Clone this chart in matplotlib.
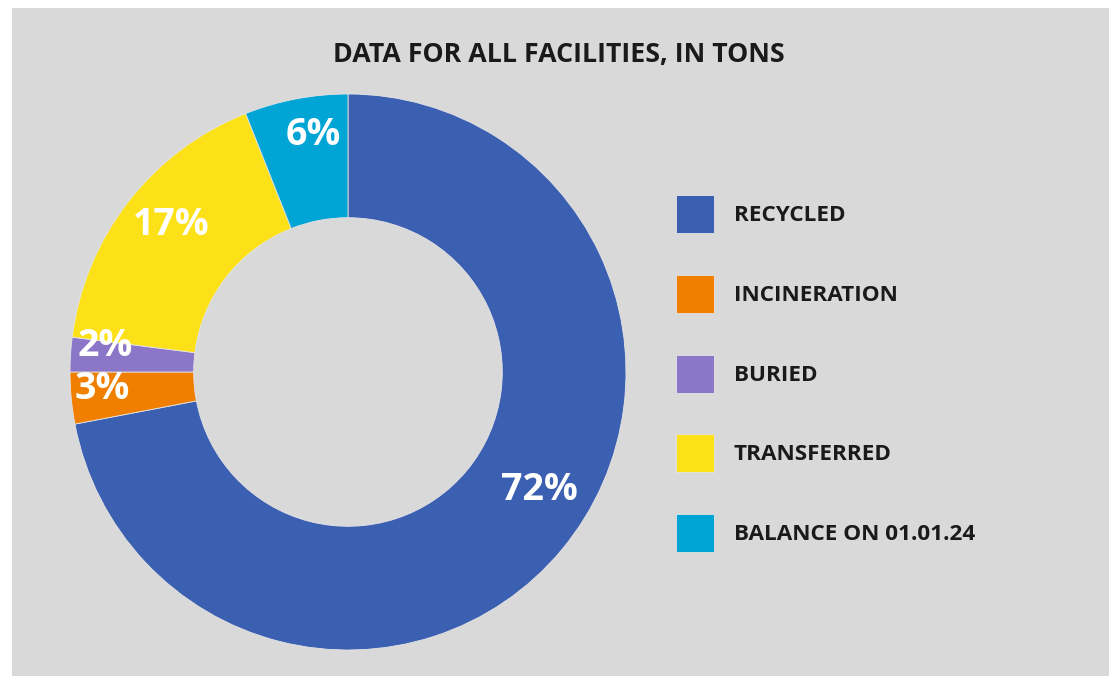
import numpy as np
import matplotlib

matplotlib.use("Agg")
import matplotlib.pyplot as plt
from matplotlib.patches import Rectangle

categories = ["RECYCLED", "INCINERATION", "BURIED", "TRANSFERRED", "BALANCE ON 01.01.24"]
shares = [72, 3, 2, 17, 6]
colors = ["#3B5FB1", "#F07F00", "#8B76C8", "#FCE118", "#00A4D5"]
title = "DATA FOR ALL FACILITIES, IN TONS"

# label placement tweaks (degrees along the ring, fraction of radius)
label_shift = [8.0, -1.5, -2.5, -1.9, -2.4]
label_radius = [0.81, 0.885, 0.88, 0.828, 0.862]

W, H = 1115, 676
plt.rcParams["font.family"] = ["Open Sans", "DejaVu Sans"]

fig = plt.figure(figsize=(W / 100, H / 100), dpi=100, facecolor="white")
fig.patches.append(
    Rectangle((12 / W, 0), (1109 - 12) / W, (H - 8) / H, transform=fig.transFigure,
              facecolor="#D9D9D9", edgecolor="none", zorder=-10)
)

ax = fig.add_axes([70 / W, (H - 650) / H, 556 / W, 556 / H])
ax.set_facecolor("none")
wedges, _ = ax.pie(
    shares,
    colors=colors,
    startangle=90,
    counterclock=False,
    radius=1.0,
    wedgeprops=dict(width=0.445, edgecolor="#E4E4E4", linewidth=0.6),
)
ax.set_xlim(-1, 1)
ax.set_ylim(-1, 1)
ax.set_aspect("equal")
ax.axis("off")

for w, val, sh, rr in zip(wedges, shares, label_shift, label_radius):
    ang = np.deg2rad((w.theta1 + w.theta2) / 2 + sh)
    ax.text(rr * np.cos(ang), rr * np.sin(ang), f"{val}%", ha="center", va="center",
            color="white", fontsize=27, fontweight="bold")

fig.text(559 / W, 1 - 55 / H, title, ha="center", va="center",
         fontsize=19.3, fontweight="bold", color="#1A1A1A")

# legend squares: 38 px side, rows ~80 px apart
fs = 16.2
side = 38 * 0.72
hh = (side - 0.245 * fs) / (0.65 * fs)
fig.legend(
    wedges,
    categories,
    loc="upper left",
    bbox_to_anchor=(676 / W, 1 - 195 / H),
    frameon=False,
    prop=dict(weight="bold", size=fs),
    handlelength=side / fs,
    handleheight=hh,
    handletextpad=20 * 0.72 / fs,
    labelspacing=(79.75 - 38) * 0.72 / fs,
    borderpad=0,
    borderaxespad=0,
    labelcolor="#1A1A1A",
)

fig.savefig("out.png", dpi=100, facecolor="white")
